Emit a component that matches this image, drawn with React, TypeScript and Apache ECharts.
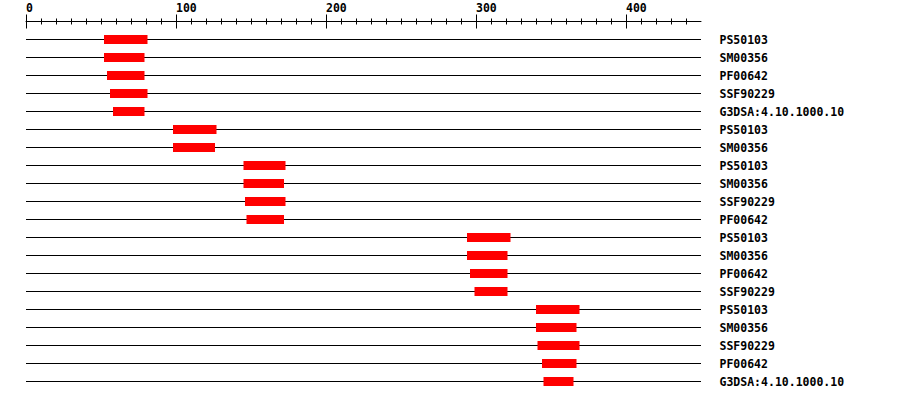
import React, { useEffect, useRef } from "react";
import * as echarts from "echarts";

const rowLabels = [
  "PS50103", "SM00356", "PF00642", "SSF90229", "G3DSA:4.10.1000.10",
  "PS50103", "SM00356",
  "PS50103", "SM00356", "SSF90229", "PF00642",
  "PS50103", "SM00356", "PF00642", "SSF90229",
  "PS50103", "SM00356", "SSF90229", "PF00642", "G3DSA:4.10.1000.10",
];
const domainStarts = [52, 52, 54, 56, 58, 98, 98, 145, 145, 146, 147, 294, 294, 296, 299, 340, 340, 341, 344, 345];
const domainEnds = [81, 79, 79, 81, 79, 127, 126, 173, 172, 173, 172, 323, 321, 321, 321, 369, 367, 369, 367, 365];
const seqLength = 450;
const minorTickValues = [0, 10, 20, 30, 40, 50, 60, 70, 80, 90, 100, 110, 120, 130, 140, 150, 160, 170, 180, 190, 200, 210, 220, 230, 240, 250, 260, 270, 280, 290, 300, 310, 320, 330, 340, 350, 360, 370, 380, 390, 400, 410, 420, 430, 440];
const majorTickValues = [0, 100, 200, 300, 400];

const FONT = "'DejaVu Sans Mono', 'Liberation Mono', monospace";

export default function App() {
  const ref = useRef<HTMLDivElement>(null);
  useEffect(() => {
    document.body.style.margin = "0";
    if (!ref.current) return;
    const chart = echarts.init(ref.current, null, { renderer: "svg" });
    const baseAxis = {
      type: "value",
      position: "top",
      offset: 9,
      min: 0,
      max: seqLength,
      splitLine: { show: false },
    };
    const lineData = rowLabels.map((_, i) => [0, seqLength, i]);
    const barData = rowLabels.map((_, i) => [domainStarts[i], domainEnds[i], i]);
    chart.setOption({
      animation: false,
      backgroundColor: "#ffffff",
      grid: { left: 26, right: 199, top: 30.5, height: 360 },
      xAxis: [
        {
          ...baseAxis,
          axisLine: { show: true, lineStyle: { color: "#000", width: 1 } },
          axisTick: { show: true, customValues: minorTickValues, length: 3, inside: false, lineStyle: { color: "#000" } },
          axisLabel: {
            show: true,
            customValues: majorTickValues,
            align: "left",
            margin: 8,
            color: "#000",
            fontFamily: FONT,
            fontWeight: "bold",
            fontSize: 11.5,
          },
        },
        {
          ...baseAxis,
          axisLine: { show: false },
          axisTick: { show: true, customValues: majorTickValues, length: 7, inside: false, lineStyle: { color: "#000" } },
          axisLabel: { show: false },
        },
        {
          ...baseAxis,
          axisLine: { show: false },
          axisTick: { show: true, customValues: minorTickValues, length: 3, inside: true, lineStyle: { color: "#000" } },
          axisLabel: { show: false },
        },
        {
          ...baseAxis,
          axisLine: { show: false },
          axisTick: { show: true, customValues: majorTickValues, length: 7, inside: true, lineStyle: { color: "#000" } },
          axisLabel: { show: false },
        },
      ],
      yAxis: {
        type: "category",
        inverse: true,
        position: "right",
        data: rowLabels.map((_, i) => String(i)),
        axisLine: { show: false },
        axisTick: { show: false },
        splitLine: { show: false },
        axisLabel: {
          show: true,
          margin: 18.5,
          align: "left",
          color: "#000",
          fontFamily: FONT,
          fontWeight: "bold",
          fontSize: 11.5,
          formatter: (_v: string, i: number) => rowLabels[i],
        },
      },
      series: [
        {
          type: "custom",
          xAxisIndex: 0,
          encode: { x: [0, 1], y: 2 },
          data: lineData,
          z: 1,
          renderItem: (_params: any, api: any) => {
            const a = api.coord([api.value(0), api.value(2)]);
            const b = api.coord([api.value(1), api.value(2)]);
            return {
              type: "line",
              shape: { x1: a[0], y1: a[1], x2: b[0], y2: b[1] },
              style: { stroke: "#000", lineWidth: 1 },
            };
          },
        },
        {
          type: "custom",
          xAxisIndex: 0,
          encode: { x: [0, 1], y: 2 },
          data: barData,
          z: 2,
          renderItem: (_params: any, api: any) => {
            const a = api.coord([api.value(0), api.value(2)]);
            const b = api.coord([api.value(1), api.value(2)]);
            return {
              type: "rect",
              shape: { x: a[0], y: a[1] - 4.5, width: b[0] - a[0], height: 9 },
              style: { fill: "#ff0000" },
            };
          },
        },
      ],
    });
    return () => chart.dispose();
  }, []);
  return <div ref={ref} style={{ width: 900, height: 400 }} />;
}
